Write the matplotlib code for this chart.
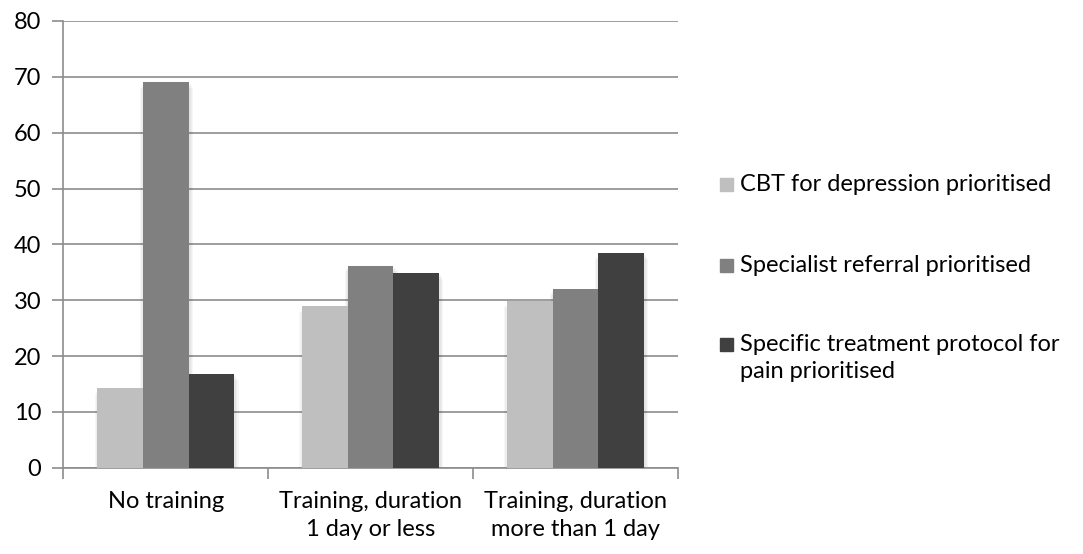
import numpy as np
import matplotlib.pyplot as plt
from matplotlib.patches import Rectangle

plt.rcParams['font.family'] = ['Lato', 'DejaVu Sans']

categories = ['No training', 'Training, duration\n1 day or less', 'Training, duration\nmore than 1 day']
series_names = ['CBT for depression prioritised',
                'Specialist referral prioritised',
                'Specific treatment protocol for\npain prioritised']
cbt = [14.3, 29.0, 29.8]
referral = [69.1, 36.2, 32.0]
protocol = [16.7, 34.8, 38.4]
colors = ['#bfbfbf', '#808080', '#404040']

FS = 17

fig = plt.figure(figsize=(10.83, 5.54), dpi=100)
ax = fig.add_axes([0.0585, 0.1558, 0.5673, 0.8063])

x = np.arange(len(categories))
width = 1 / 4.5
for i, (vals, c) in enumerate(zip([cbt, referral, protocol], colors)):
    pos = x + (i - 1) * width
    # soft drop shadow under each bar
    for k in range(3):
        ax.bar(pos + 0.004, vals, width=width + 0.012 * (k + 1), bottom=-0.35 * (k + 1),
               color='black', alpha=0.035, linewidth=0, zorder=2)
    ax.bar(pos, vals, width=width, color=c, linewidth=0, zorder=3)

ax.set_xlim(-0.5, 2.5)
ax.set_ylim(0, 80)
ax.set_yticks(range(0, 81, 10))
ax.yaxis.grid(True, color='#8c8c8c', linewidth=1.2, zorder=0)
ax.set_axisbelow(True)

ax.set_xticks([-0.5, 0.5, 1.5, 2.5], minor=False)
ax.set_xticklabels([])
ax.set_xticks(x, minor=True)
ax.set_xticklabels(categories, minor=True, fontsize=FS, linespacing=1.38)
ax.tick_params(axis='x', which='minor', length=0, pad=17)
ax.tick_params(axis='x', which='major', length=8, color='#8c8c8c', width=1.2)
ax.tick_params(axis='y', length=8, color='#8c8c8c', width=1.2, labelsize=FS, pad=8)

for side in ['top', 'right']:
    ax.spines[side].set_visible(False)
for side in ['left', 'bottom']:
    ax.spines[side].set_color('#8c8c8c')
    ax.spines[side].set_linewidth(1.2)

# legend drawn by hand so the swatch lines up with the first text line
legend_y = [184, 265, 344]
for name, c, yy in zip(series_names, colors, legend_y):
    fy = 1 - yy / 554
    fig.patches.append(Rectangle((720 / 1083, fy - 6.5 / 554), 13 / 1083, 13 / 554,
                                 transform=fig.transFigure, color=c))
    fig.text(740 / 1083, fy + 10 / 554, name, fontsize=FS, va='top', ha='left',
             linespacing=1.38)

fig.savefig('out.png', dpi=100)
